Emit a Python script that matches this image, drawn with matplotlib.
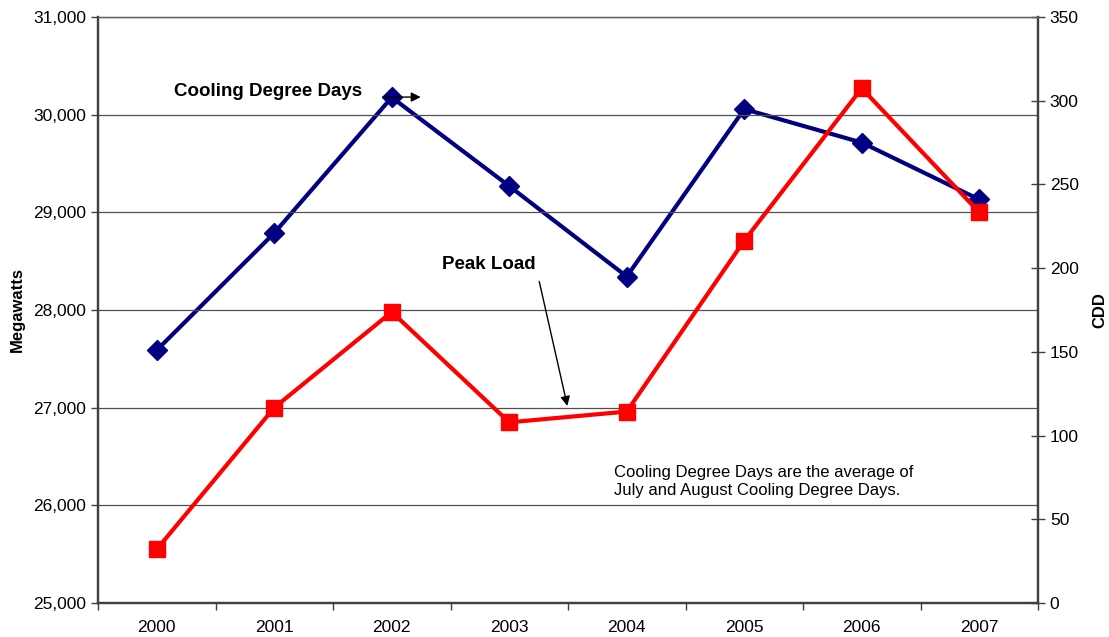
import numpy as np
import matplotlib
matplotlib.use("Agg")
import matplotlib.pyplot as plt

years = ["2000", "2001", "2002", "2003", "2004", "2005", "2006", "2007"]
peak_load = [25550, 27000, 27980, 26850, 26960, 28710, 30270, 29000]
cdd = [151, 221, 302, 249, 195, 295, 275, 241]

plt.rcParams["font.family"] = ["Liberation Sans", "DejaVu Sans"]

fig = plt.figure(figsize=(11.09, 6.37), dpi=100)
ax = fig.add_axes([98 / 1109, 34 / 637, 940 / 1109, 586 / 637])
ax2 = ax.twinx()

x = np.arange(len(years))
edge = "#404040"
tick_fs = 12.5

ax.set_ylim(25000, 31000)
ax.set_yticks(np.arange(25000, 31001, 1000))
ax.set_yticklabels([f"{v:,}" for v in range(25000, 31001, 1000)])
ax.set_xlim(-0.5, len(years) - 0.5)
ax.set_xticks(x)
ax.set_xticklabels(years)
ax.set_xticks(np.arange(-0.5, len(years), 1), minor=True)
ax.tick_params(axis="x", which="major", length=0, pad=12, labelsize=tick_fs)
ax.tick_params(axis="x", which="minor", length=5, color=edge, width=1)
ax.tick_params(axis="y", length=5, color=edge, width=1, labelsize=tick_fs)
ax.yaxis.grid(True, color="#505050", linewidth=0.9)
ax.set_axisbelow(True)
ax.set_ylabel("Megawatts", fontsize=12, fontweight="bold", labelpad=6)

ax2.set_ylim(0, 350)
ax2.set_yticks(np.arange(0, 351, 50))
ax2.tick_params(axis="y", direction="inout", length=10, color=edge, width=1, labelsize=tick_fs)
ax2.set_ylabel("CDD", fontsize=12, fontweight="bold", labelpad=10)

for a in (ax, ax2):
    for side in ("left", "right", "bottom"):
        a.spines[side].set_color(edge)
        a.spines[side].set_linewidth(1.6)
    a.spines["top"].set_color("#606060")
    a.spines["top"].set_linewidth(0.9)

ax2.plot(x, cdd, color="#000080", linewidth=3, marker="D", markersize=10, zorder=3)
ax.plot(x, peak_load, color="#FF0000", linewidth=3, marker="s", markersize=11.5, zorder=3)
ax.set_zorder(ax2.get_zorder() + 1)
ax.patch.set_visible(False)
ax2.set_zorder(0)

ax.annotate("", xy=(2.27, 30180), xytext=(1.9, 30180),
            arrowprops=dict(arrowstyle="-|>", color="black", lw=1, mutation_scale=14))
ax.text(1.75, 30240, "Cooling Degree Days", fontsize=13.5, fontweight="bold",
        ha="right", va="center")
ax.text(2.83, 28470, "Peak Load", fontsize=13.5, fontweight="bold", ha="center", va="center")
ax.annotate("", xy=(3.5, 26990), xytext=(3.25, 28320),
            arrowprops=dict(arrowstyle="-|>", color="black", lw=1, mutation_scale=14))
ax.text(3.89, 26080,
        "Cooling Degree Days are the average of\nJuly and August Cooling Degree Days.",
        fontsize=12, ha="left", va="bottom", linespacing=1.25)

fig.savefig("out.png", dpi=100)
